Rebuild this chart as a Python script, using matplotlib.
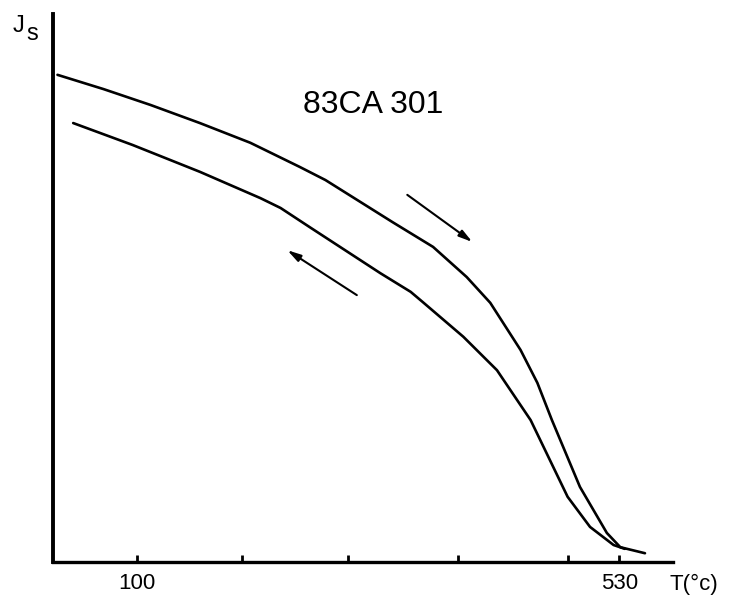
import matplotlib.pyplot as plt

# heating curve (upper), temperature in deg C, Js in arbitrary units
heat_T = [29, 70, 112, 156, 201, 245, 268, 328, 364, 394, 415, 442, 457, 470, 495, 519, 531, 553]
heat_J = [0.889, 0.863, 0.834, 0.801, 0.765, 0.721, 0.697, 0.620, 0.575, 0.520, 0.473, 0.387, 0.327, 0.259, 0.137, 0.053, 0.027, 0.016]

# cooling curve (lower)
cool_T = [43, 96, 156, 210, 228, 254, 299, 317, 344, 355, 391, 421, 451, 484, 504, 525, 535]
cool_J = [0.801, 0.761, 0.712, 0.664, 0.646, 0.611, 0.551, 0.527, 0.493, 0.474, 0.411, 0.350, 0.259, 0.119, 0.064, 0.031, 0.024]

tick_T = [100, 194, 288, 386, 484, 530]
tick_labels = ['100', '', '', '', '', '530']

font = 'Liberation Sans'

fig = plt.figure(figsize=(7.38, 6.01), dpi=100)
ax = fig.add_axes([53 / 738, 39 / 601, 620 / 738, 548 / 601])

ax.plot(heat_T, heat_J, color='black', lw=1.9, solid_capstyle='round', solid_joinstyle='round')
ax.plot(cool_T, cool_J, color='black', lw=1.9, solid_capstyle='round', solid_joinstyle='round')

arrow_style = dict(arrowstyle='-|>,head_length=0.8,head_width=0.22', color='black', lw=1.5,
                   shrinkA=0, shrinkB=0)
ax.annotate('', xy=(399, 0.584), xytext=(341, 0.670), arrowprops=arrow_style)
ax.annotate('', xy=(234, 0.569), xytext=(296, 0.487), arrowprops=arrow_style)

ax.text(311, 0.834, '83CA 301', fontsize=23, family=font, ha='center', va='center')

ax.set_xlim(25, 578)
ax.set_ylim(0, 1)
ax.set_xticks(tick_T)
ax.set_xticklabels(tick_labels, fontsize=16, family=font)
ax.set_yticks([])
ax.tick_params(axis='x', direction='in', length=5, width=2, pad=8)

for side in ['top', 'right']:
    ax.spines[side].set_visible(False)
ax.spines['left'].set_linewidth(2.8)
ax.spines['bottom'].set_linewidth(2.4)

fig.text(13 / 738, 1 - 32 / 601, 'J', fontsize=17, family=font, ha='left', va='baseline')
fig.text(26 / 738, 1 - 40 / 601, 's', fontsize=17, family=font, ha='left', va='baseline')
fig.text(670 / 738, 1 - 590 / 601, 'T(°c)', fontsize=16, family=font, ha='left', va='baseline')

fig.savefig('out.png', dpi=100, facecolor='white')
